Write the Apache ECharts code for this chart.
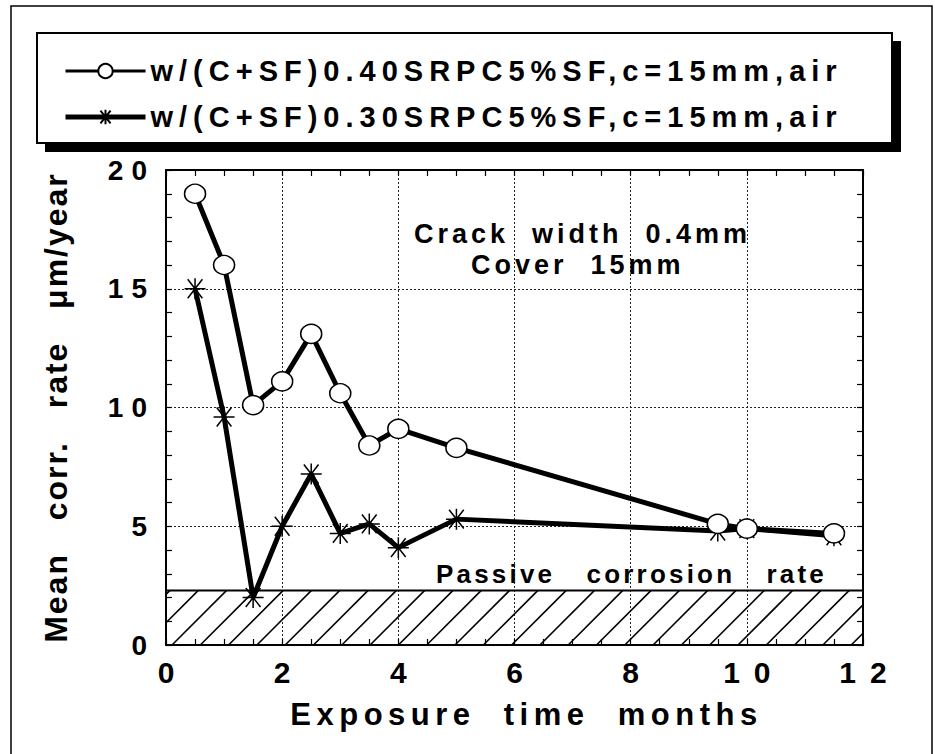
<!DOCTYPE html>
<html><head><meta charset="utf-8">
<script src="https://cdn.jsdelivr.net/npm/echarts@6/dist/echarts.min.js"></script>
<style>
html,body{margin:0;padding:0;background:#fff;}
#chart{width:935px;height:754px;}
#chart text{white-space:pre;}
#chart text[style*="26px"]{letter-spacing:3.2px;}
#chart text[style*="27px"]{letter-spacing:4px;}
#chart text[style*="28px"]{letter-spacing:8px;}
#chart text[style*="29px"]{letter-spacing:6px;}
#chart text[style*="30px"]{letter-spacing:14px;}
#chart text[style*="31px"]{letter-spacing:5.5px;}
#chart text[style*="32px"]{letter-spacing:2px;}
</style></head>
<body><div id="chart"></div>
<script>
// ---- data ----
const months   = [0.5, 1, 1.5, 2, 2.5, 3, 3.5, 4, 5, 9.5, 10, 11.5];
const rate040  = [19.0, 16.0, 10.1, 11.1, 13.1, 10.6, 8.4, 9.1, 8.3, 5.1, 4.9, 4.7];
const rate030  = [15.0, 9.6, 2.0, 5.0, 7.2, 4.7, 5.1, 4.1, 5.3, 4.8, 4.9, 4.6];
const passiveRate = 2.3;
const xTicks = [0, 2, 4, 6, 8, 10, 12];
const yTicks = [0, 5, 10, 15, 20];
const seriesNames = ['w/(C+SF)0.40SRPC5%SF,c=15mm,air', 'w/(C+SF)0.30SRPC5%SF,c=15mm,air'];
const xName = 'Exposure  time  months';
const yName = 'Mean   corr.   rate   \u03bcm/year';
const noteLines = ['Crack  width  0.4mm', 'Cover  15mm'];
const passiveLabel = 'Passive   corrosion   rate';

const FF = '"Liberation Sans", Arial, Helvetica, sans-serif';
const chart = echarts.init(document.getElementById('chart'), null, {renderer: 'svg'});

function pairs(xs, ys) { return xs.map((x, i) => [x, ys[i]]); }

const starPath = 'path://M0 10 L20 10 M3 1 L17 19 M17 1 L3 19 M10 0 L10 20';

function xAxisCfg(pos, labels) {
  return {
    type: 'value', position: pos,
    min: xTicks[0], max: xTicks[xTicks.length - 1], interval: xTicks[1] - xTicks[0],
    axisLine: {show: true, onZero: false, lineStyle: {color: '#000', width: 2}},
    axisTick: {show: true, inside: true, length: 6, lineStyle: {color: '#000', width: 1.2}},
    minorTick: {show: true, splitNumber: 4, length: 6, lineStyle: {color: '#000', width: 1.2}},
    splitLine: {show: labels, lineStyle: {color: '#222', width: 1, type: [2, 2]}},
    axisLabel: {show: labels, color: '#000', fontSize: 30, fontWeight: 'bold', fontFamily: FF, margin: 12,
                padding: [0, 0, 0, 14]},
    name: labels ? xName : '', nameLocation: 'middle', nameGap: 54,
    nameTextStyle: {color: '#000', fontSize: 31, fontWeight: 'bold', fontFamily: FF, padding: [0, 0, 0, 24]}
  };
}
function yAxisCfg(pos, labels) {
  return {
    type: 'value', position: pos,
    min: yTicks[0], max: yTicks[yTicks.length - 1], interval: yTicks[1] - yTicks[0],
    axisLine: {show: true, onZero: false, lineStyle: {color: '#000', width: 2}},
    axisTick: {show: true, inside: true, length: 6, lineStyle: {color: '#000', width: 1.2}},
    minorTick: {show: true, splitNumber: 5, length: 6, lineStyle: {color: '#000', width: 1.2}},
    splitLine: {show: labels, lineStyle: {color: '#222', width: 1, type: [2, 2]}},
    axisLabel: {show: labels, color: '#000', fontSize: 28, fontWeight: 'bold', fontFamily: FF, margin: 11},
    name: labels ? yName : '', nameLocation: 'middle', nameGap: 94,
    nameTextStyle: {color: '#000', fontSize: 32, fontWeight: 'bold', fontFamily: FF}
  };
}

const option = {
  backgroundColor: '#fff',
  animation: false,
  grid: {left: 166, top: 170, right: 72, bottom: 109, containLabel: false},
  xAxis: [xAxisCfg('bottom', true), xAxisCfg('top', false)],
  yAxis: [yAxisCfg('left', true), yAxisCfg('right', false)],
  legend: {
    show: true, orient: 'vertical', left: 58, top: 50,
    itemWidth: 80, itemHeight: 18, itemGap: 14,
    textStyle: {color: '#000', fontSize: 29, fontWeight: 'bold', fontFamily: FF, lineHeight: 32},
    data: [
      {name: seriesNames[0], lineStyle: {width: 3}},
      {name: seriesNames[1], lineStyle: {width: 5}}
    ]
  },
  graphic: [
    {type: 'rect', z: -10, shape: {x: 11, y: 6, width: 921, height: 800},
     style: {fill: 'none', stroke: '#000', lineWidth: 1.5}},
    {type: 'rect', z: -9, shape: {x: 45, y: 41, width: 856, height: 111}, style: {fill: '#000'}},
    {type: 'rect', z: -8, shape: {x: 37, y: 33, width: 855, height: 110},
     style: {fill: '#fff', stroke: '#000', lineWidth: 2}},
    {type: 'text', z: 10, x: 414, y: 234,
     style: {text: noteLines[0], font: 'bold 27px ' + FF, fill: '#000', align: 'left', verticalAlign: 'middle'}},
    {type: 'text', z: 10, x: 471, y: 265,
     style: {text: noteLines[1], font: 'bold 27px ' + FF, fill: '#000', align: 'left', verticalAlign: 'middle'}},
    {type: 'text', z: 10, x: 436, y: 574,
     style: {text: passiveLabel, font: 'bold 26px ' + FF, fill: '#000', align: 'left', verticalAlign: 'middle'}}
  ],
  series: [
    {
      type: 'custom', silent: true, z: 1,
      data: [[xTicks[0], xTicks[xTicks.length - 1], passiveRate]],
      renderItem: function (params, api) {
        const p0 = api.coord([api.value(0), 0]);
        const p1 = api.coord([api.value(1), api.value(2)]);
        const L = p0[0], B = p0[1], R = p1[0], T = p1[1];
        const step = 28.3;
        const children = [];
        const k0 = L + B + 6;
        let k = k0 - step * Math.floor((k0 - (L + T)) / step);
        for (; k < R + B; k += step) {
          const x1 = Math.max(L, k - B), x2 = Math.min(R, k - T);
          if (x2 <= x1) continue;
          children.push({type: 'line', shape: {x1: x1, y1: k - x1, x2: x2, y2: k - x2},
                         style: {stroke: '#000', lineWidth: 1.6}});
        }
        children.push({type: 'line', shape: {x1: L, y1: T, x2: R, y2: T}, style: {stroke: '#000', lineWidth: 2}});
        return {type: 'group', children: children};
      }
    },
    {
      name: seriesNames[0], type: 'line', z: 4,
      data: pairs(months, rate040),
      symbol: 'circle', symbolSize: [21, 19],
      lineStyle: {color: '#000', width: 5},
      itemStyle: {color: '#fff', borderColor: '#000', borderWidth: 1.5}
    },
    {
      name: seriesNames[1], type: 'line', z: 3,
      data: pairs(months, rate030),
      symbol: starPath, symbolSize: 21,
      lineStyle: {color: '#000', width: 5},
      itemStyle: {color: '#000', borderColor: '#000', borderWidth: 1.5}
    }
  ]
};
chart.setOption(option);
</script>
</body></html>
